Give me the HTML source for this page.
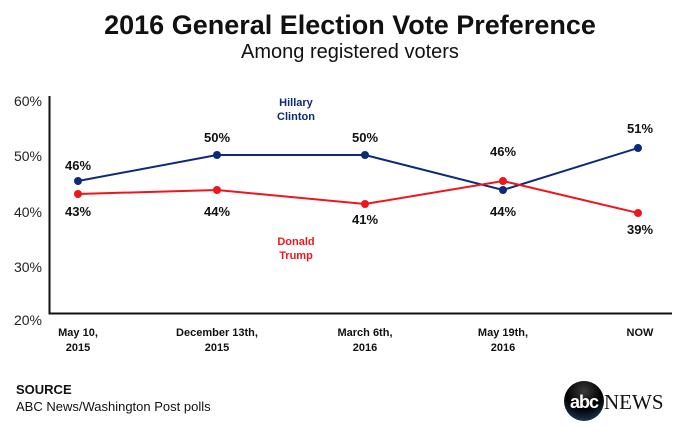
<!DOCTYPE html>
<html><head><style>
body{margin:0;background:#fff;width:700px;height:435px;overflow:hidden;font-family:"Liberation Sans",Arial,sans-serif}
</style></head><body>
<svg width="700" height="435" xmlns="http://www.w3.org/2000/svg" font-family="Liberation Sans, Arial, sans-serif">
<text x="350" y="34" text-anchor="middle" font-size="27" font-weight="bold" fill="#111">2016 General Election Vote Preference</text>
<text x="350" y="58" text-anchor="middle" font-size="20" fill="#111">Among registered voters</text>
<g font-size="14" fill="#222" text-anchor="end">
<text x="42" y="106">60%</text><text x="42" y="161">50%</text><text x="42" y="217">40%</text><text x="42" y="272">30%</text><text x="42" y="325">20%</text>
</g>
<path d="M49.5 96V313.5H672" stroke="#111" stroke-width="2" fill="none"/>
<polyline points="78,181 217,155 365,155 503,190 638,148" fill="none" stroke="#0d2a7a" stroke-width="2"/>
<polyline points="78,194 217,190 365,204 503,181 638,213" fill="none" stroke="#f0151c" stroke-width="2"/>
<g fill="#0d2a7a"><circle cx="78" cy="181" r="4"/><circle cx="217" cy="155" r="4"/><circle cx="365" cy="155" r="4"/><circle cx="503" cy="190" r="4"/><circle cx="638" cy="148" r="4"/></g>
<g fill="#f0151c"><circle cx="78" cy="194" r="4"/><circle cx="217" cy="190" r="4"/><circle cx="365" cy="204" r="4"/><circle cx="503" cy="181" r="4"/><circle cx="638" cy="213" r="4"/></g>
<g font-size="13" font-weight="bold" fill="#111" text-anchor="middle">
<text x="78" y="170">46%</text><text x="78" y="216">43%</text>
<text x="217" y="142">50%</text><text x="217" y="216">44%</text>
<text x="365" y="142">50%</text><text x="365" y="224">41%</text>
<text x="503" y="156">46%</text><text x="503" y="216">44%</text>
<text x="640" y="133">51%</text><text x="640" y="234">39%</text>
</g>
<g font-size="11" font-weight="bold" text-anchor="middle">
<text x="296" y="106" fill="#0d2a7a">Hillary</text><text x="296" y="120" fill="#0d2a7a">Clinton</text>
<text x="296" y="245" fill="#f0151c">Donald</text><text x="296" y="259" fill="#f0151c">Trump</text>
</g>
<g font-size="11" font-weight="bold" fill="#111" text-anchor="middle">
<text x="78" y="336">May 10,</text><text x="78" y="351">2015</text>
<text x="217" y="336">December 13th,</text><text x="217" y="351">2015</text>
<text x="365" y="336">March 6th,</text><text x="365" y="351">2016</text>
<text x="503" y="336">May 19th,</text><text x="503" y="351">2016</text>
<text x="640" y="336">NOW</text>
</g>
<text x="16" y="394" font-size="13" font-weight="bold" fill="#111">SOURCE</text>
<text x="16" y="411" font-size="13" fill="#111">ABC News/Washington Post polls</text>
<defs><radialGradient id="g" cx="50%" cy="25%" r="75%"><stop offset="0" stop-color="#3a3a3a"/><stop offset="0.6" stop-color="#000"/><stop offset="1" stop-color="#1a3550"/></radialGradient></defs>
<circle cx="584" cy="401" r="20" fill="url(#g)"/>
<text x="584" y="408" text-anchor="middle" font-size="18" font-weight="bold" fill="#fff" letter-spacing="-1">abc</text>
<text x="604" y="409" font-family="Liberation Serif, serif" font-size="21" fill="#111">NEWS</text>
</svg>
</body></html>
